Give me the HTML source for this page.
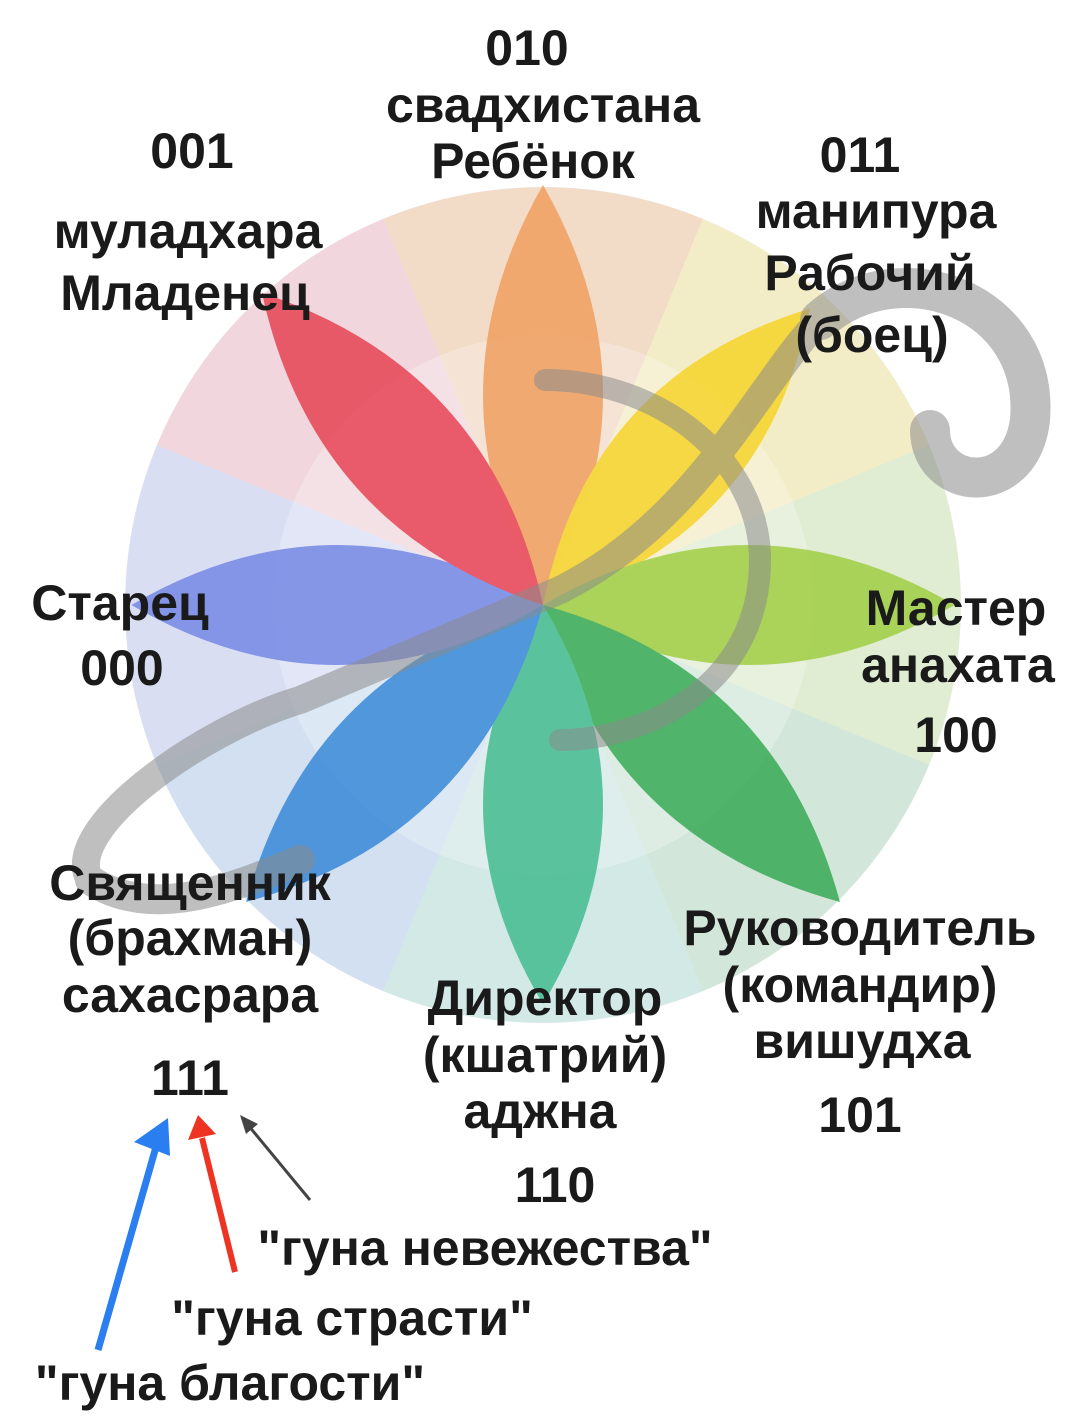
<!DOCTYPE html>
<html><head><meta charset="utf-8"><style>
html,body{margin:0;padding:0;background:#fff;}
svg{display:block}
text{font-family:"Liberation Sans",sans-serif;fill:#1a1a1a;}
</style></head><body>
<svg width="1080" height="1428" viewBox="0 0 1080 1428" xmlns="http://www.w3.org/2000/svg">
<defs>
<path id="pet" d="M0,0 Q120,-210 0,-420 Q-120,-210 0,0Z"/>
<path id="wedge" d="M0,0 L-160,-386 A418,418 0 0 1 160,-386Z"/>
</defs>
<g transform="translate(543,605)">
<circle r="418" fill="#eef0f5"/>
<g opacity="0.5">
<use href="#wedge" transform="rotate(0)" fill="#f7c89a"/>
<use href="#wedge" transform="rotate(45)" fill="#f8ec9a"/>
<use href="#wedge" transform="rotate(90)" fill="#d4ebb0"/>
<use href="#wedge" transform="rotate(135)" fill="#b7e0c0"/>
<use href="#wedge" transform="rotate(180)" fill="#b8e3d8"/>
<use href="#wedge" transform="rotate(225)" fill="#b8d2f0"/>
<use href="#wedge" transform="rotate(270)" fill="#c8cdf2"/>
<use href="#wedge" transform="rotate(315)" fill="#f4c0c6"/>
</g>
<circle r="270" fill="#fff" opacity="0.25"/>
<g opacity="0.8">
<use href="#pet" transform="rotate(0)" fill="#ef9c58"/>
<use href="#pet" transform="rotate(42) scale(1,0.95)" fill="#f6d21e"/>
<use href="#pet" transform="rotate(90) scale(1,0.98)" fill="#9ccc3a"/>
<use href="#pet" transform="rotate(135)" fill="#2da64c"/>
<use href="#pet" transform="rotate(180) scale(1,0.95)" fill="#3ab88a"/>
<use href="#pet" transform="rotate(225)" fill="#2f82d6"/>
<use href="#pet" transform="rotate(270) scale(1,0.98)" fill="#6e82e4"/>
<use href="#pet" transform="rotate(318)" fill="#e63a4c"/>
</g>
</g>
<g fill="none" stroke="#8a8a8a" opacity="0.55" stroke-linecap="round">
<path d="M90,880 C60,830 200,730 300,700 L560,590 C700,520 760,380 820,320" stroke-width="28"/>
<path d="M820,320 C900,250 1040,300 1030,420 C1020,500 930,490 930,430" stroke-width="40"/>
<path d="M90,880 C150,920 230,890 300,860" stroke-width="30"/>
<path d="M545,380 C660,380 760,460 760,560 C760,690 640,740 560,740" stroke-width="22"/>
</g>
<g font-size="50" font-weight="bold">
<text x="527" y="65" text-anchor="middle">010</text>
<text x="543" y="122" text-anchor="middle">свадхистана</text>
<text x="533" y="178" text-anchor="middle">Ребёнок</text>
<text x="192" y="168" text-anchor="middle">001</text>
<text x="188" y="248" text-anchor="middle">муладхара</text>
<text x="185" y="310" text-anchor="middle">Младенец</text>
<text x="860" y="172" text-anchor="middle">011</text>
<text x="876" y="228" text-anchor="middle">манипура</text>
<text x="870" y="290" text-anchor="middle">Рабочий</text>
<text x="872" y="352" text-anchor="middle">(боец)</text>
<text x="120" y="620" text-anchor="middle">Старец</text>
<text x="122" y="685" text-anchor="middle">000</text>
<text x="956" y="625" text-anchor="middle">Мастер</text>
<text x="958" y="682" text-anchor="middle">анахата</text>
<text x="956" y="752" text-anchor="middle">100</text>
<text x="190" y="900" text-anchor="middle">Священник</text>
<text x="190" y="955" text-anchor="middle">(брахман)</text>
<text x="190" y="1012" text-anchor="middle">сахасрара</text>
<text x="190" y="1095" text-anchor="middle">111</text>
<text x="860" y="945" text-anchor="middle">Руководитель</text>
<text x="860" y="1002" text-anchor="middle">(командир)</text>
<text x="862" y="1058" text-anchor="middle">вишудха</text>
<text x="860" y="1132" text-anchor="middle">101</text>
<text x="545" y="1015" text-anchor="middle">Директор</text>
<text x="545" y="1072" text-anchor="middle">(кшатрий)</text>
<text x="540" y="1128" text-anchor="middle">аджна</text>
<text x="555" y="1202" text-anchor="middle">110</text>
<text x="485" y="1265" text-anchor="middle">"гуна невежества"</text>
<text x="352" y="1335" text-anchor="middle">"гуна страсти"</text>
<text x="230" y="1400" text-anchor="middle">"гуна благости"</text>
</g>
<line x1="98" y1="1350" x2="158" y2="1140" stroke="#2a7ef0" stroke-width="7"/>
<path d="M134,1142 L168,1118 L170,1156Z" fill="#2a7ef0"/>
<line x1="235" y1="1272" x2="202" y2="1138" stroke="#ee3322" stroke-width="6"/>
<path d="M188,1140 L198,1115 L216,1134Z" fill="#ee3322"/>
<line x1="310" y1="1200" x2="248" y2="1125" stroke="#444" stroke-width="3"/>
<path d="M240,1115 L258,1124 L246,1134Z" fill="#444"/>
</svg>
</body></html>
